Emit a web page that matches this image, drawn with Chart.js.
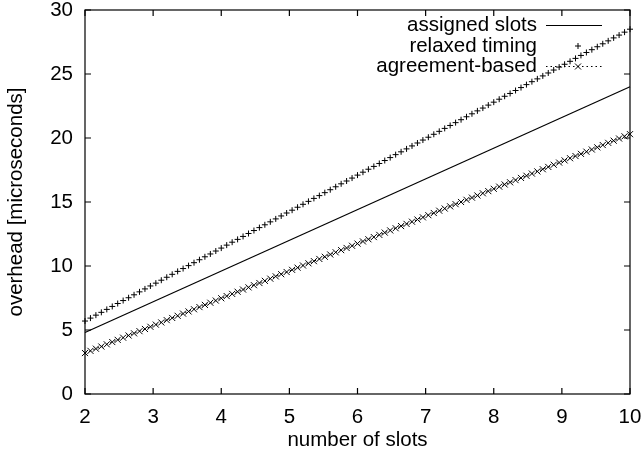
<!DOCTYPE html>
<html>
<head>
<meta charset="utf-8">
<script src="https://cdn.jsdelivr.net/npm/chart.js@4.4.1/dist/chart.umd.min.js"></script>
<style>
  html, body { margin: 0; padding: 0; background: #fff; }
  canvas { display: block; }
</style>
</head>
<body>
<canvas id="overheadChart" width="644" height="461"></canvas>
<script>
// --- DATA ---
const seriesNames = ['assigned slots', 'relaxed timing', 'agreement-based'];

// assigned slots is a plain straight line
const assignedX = [2, 10];
const assignedY = [4.8, 24.0];

// sample positions (number of slots) for the two point series
const slotX = [
  2.00, 2.08, 2.16, 2.24, 2.32, 2.40, 2.48, 2.56, 2.64, 2.72,
  2.80, 2.88, 2.96, 3.04, 3.12, 3.20, 3.28, 3.36, 3.44, 3.52,
  3.60, 3.68, 3.76, 3.84, 3.92, 4.00, 4.08, 4.16, 4.24, 4.32,
  4.40, 4.48, 4.56, 4.64, 4.72, 4.80, 4.88, 4.96, 5.04, 5.12,
  5.20, 5.28, 5.36, 5.44, 5.52, 5.60, 5.68, 5.76, 5.84, 5.92,
  6.00, 6.08, 6.16, 6.24, 6.32, 6.40, 6.48, 6.56, 6.64, 6.72,
  6.80, 6.88, 6.96, 7.04, 7.12, 7.20, 7.28, 7.36, 7.44, 7.52,
  7.60, 7.68, 7.76, 7.84, 7.92, 8.00, 8.08, 8.16, 8.24, 8.32,
  8.40, 8.48, 8.56, 8.64, 8.72, 8.80, 8.88, 8.96, 9.04, 9.12,
  9.20, 9.28, 9.36, 9.44, 9.52, 9.60, 9.68, 9.76, 9.84, 9.92,
  10.00
];

const relaxedY = [
  5.70, 5.93, 6.16, 6.38, 6.61, 6.84, 7.07, 7.30, 7.52, 7.75,
  7.98, 8.21, 8.44, 8.66, 8.89, 9.12, 9.35, 9.58, 9.80, 10.03,
  10.26, 10.49, 10.72, 10.94, 11.17, 11.40, 11.63, 11.86, 12.08, 12.31,
  12.54, 12.77, 13.00, 13.22, 13.45, 13.68, 13.91, 14.14, 14.36, 14.59,
  14.82, 15.05, 15.28, 15.50, 15.73, 15.96, 16.19, 16.42, 16.64, 16.87,
  17.10, 17.33, 17.56, 17.78, 18.01, 18.24, 18.47, 18.70, 18.92, 19.15,
  19.38, 19.61, 19.84, 20.06, 20.29, 20.52, 20.75, 20.98, 21.20, 21.43,
  21.66, 21.89, 22.12, 22.34, 22.57, 22.80, 23.03, 23.26, 23.48, 23.71,
  23.94, 24.17, 24.40, 24.62, 24.85, 25.08, 25.31, 25.54, 25.76, 25.99,
  26.22, 26.45, 26.68, 26.90, 27.13, 27.36, 27.59, 27.82, 28.04, 28.27,
  28.50
];

const agreementY = [
  3.20, 3.37, 3.54, 3.71, 3.88, 4.06, 4.23, 4.40, 4.57, 4.74,
  4.91, 5.08, 5.25, 5.42, 5.59, 5.77, 5.94, 6.11, 6.28, 6.45,
  6.62, 6.79, 6.96, 7.13, 7.30, 7.48, 7.65, 7.82, 7.99, 8.16,
  8.33, 8.50, 8.67, 8.84, 9.01, 9.19, 9.36, 9.53, 9.70, 9.87,
  10.04, 10.21, 10.38, 10.55, 10.72, 10.90, 11.07, 11.24, 11.41, 11.58,
  11.75, 11.92, 12.09, 12.26, 12.43, 12.61, 12.78, 12.95, 13.12, 13.29,
  13.46, 13.63, 13.80, 13.97, 14.14, 14.32, 14.49, 14.66, 14.83, 15.00,
  15.17, 15.34, 15.51, 15.68, 15.85, 16.03, 16.20, 16.37, 16.54, 16.71,
  16.88, 17.05, 17.22, 17.39, 17.56, 17.74, 17.91, 18.08, 18.25, 18.42,
  18.59, 18.76, 18.93, 19.10, 19.27, 19.45, 19.62, 19.79, 19.96, 20.13,
  20.30
];

const xTicks = [2, 3, 4, 5, 6, 7, 8, 9, 10];
const yTicks = [0, 5, 10, 15, 20, 25, 30];

// --- STYLE ---
const FONT = '"Liberation Sans", Arial, Helvetica, sans-serif';
const FONT_SIZE = 20.5;
const INK = '#000';
const TICK_LEN = 6;

const toPoints = (xs, ys) => xs.map((x, i) => ({ x: x, y: ys[i] }));

// gnuplot style frame: box + inward ticks on all four sides
const framePlugin = {
  id: 'frame',
  afterDatasetsDraw(chart) {
    const ctx = chart.ctx;
    const a = chart.chartArea;
    const xs = chart.scales.x, ys = chart.scales.y;
    ctx.save();
    ctx.strokeStyle = INK;
    ctx.lineWidth = 1.2;
    ctx.strokeRect(a.left, a.top, a.right - a.left, a.bottom - a.top);
    ctx.beginPath();
    xTicks.forEach(v => {
      const px = xs.getPixelForValue(v);
      ctx.moveTo(px, a.bottom); ctx.lineTo(px, a.bottom - TICK_LEN);
      ctx.moveTo(px, a.top); ctx.lineTo(px, a.top + TICK_LEN);
    });
    yTicks.forEach(v => {
      const py = ys.getPixelForValue(v);
      ctx.moveTo(a.left, py); ctx.lineTo(a.left + TICK_LEN, py);
      ctx.moveTo(a.right, py); ctx.lineTo(a.right - TICK_LEN, py);
    });
    ctx.stroke();
    ctx.restore();
  }
};

// key in the top right corner: text right aligned, sample to its right
const keyPlugin = {
  id: 'gnuKey',
  afterDraw(chart) {
    const ctx = chart.ctx;
    const textRight = 537;
    const sampleL = 546, sampleR = 602;
    const rows = [25.5, 46, 66.5];
    ctx.save();
    ctx.font = FONT_SIZE + 'px ' + FONT;
    ctx.fillStyle = INK;
    ctx.textAlign = 'right';
    ctx.textBaseline = 'middle';
    seriesNames.forEach((name, i) => ctx.fillText(name, textRight, rows[i]));

    ctx.strokeStyle = INK;
    ctx.lineWidth = 1.2;
    // solid line
    ctx.beginPath();
    ctx.moveTo(sampleL, rows[0]); ctx.lineTo(sampleR, rows[0]);
    ctx.stroke();
    const mid = 578;
    // plus marker
    ctx.lineWidth = 1;
    ctx.beginPath();
    ctx.moveTo(mid - 3, rows[1]); ctx.lineTo(mid + 3, rows[1]);
    ctx.moveTo(mid, rows[1] - 3); ctx.lineTo(mid, rows[1] + 3);
    ctx.stroke();
    // dotted line + cross
    ctx.setLineDash([1.5, 3]);
    ctx.beginPath();
    ctx.moveTo(sampleL, rows[2]); ctx.lineTo(sampleR, rows[2]);
    ctx.stroke();
    ctx.setLineDash([]);
    ctx.beginPath();
    ctx.moveTo(mid - 3, rows[2] - 3); ctx.lineTo(mid + 3, rows[2] + 3);
    ctx.moveTo(mid - 3, rows[2] + 3); ctx.lineTo(mid + 3, rows[2] - 3);
    ctx.stroke();
    ctx.restore();
  }
};

const chart = new Chart(document.getElementById('overheadChart').getContext('2d'), {
  type: 'scatter',
  data: {
    datasets: [
      {
        label: seriesNames[0],
        data: toPoints(assignedX, assignedY),
        showLine: true,
        borderColor: INK,
        borderWidth: 1.2,
        pointRadius: 0,
        clip: false
      },
      {
        label: seriesNames[1],
        data: toPoints(slotX, relaxedY),
        showLine: false,
        pointStyle: 'cross',
        pointRadius: 3,
        pointBorderColor: INK,
        pointBorderWidth: 1,
        borderColor: INK,
        clip: false
      },
      {
        label: seriesNames[2],
        data: toPoints(slotX, agreementY),
        showLine: true,
        borderColor: INK,
        borderWidth: 1,
        borderDash: [1.5, 3],
        pointStyle: 'crossRot',
        pointRadius: 4.3,
        pointBorderColor: INK,
        pointBorderWidth: 1,
        clip: false
      }
    ]
  },
  options: {
    responsive: false,
    animation: false,
    devicePixelRatio: 1,
    layout: { padding: { top: 10, right: 14, left: 0, bottom: 0 } },
    plugins: {
      legend: { display: false },
      tooltip: { enabled: false }
    },
    scales: {
      x: {
        type: 'linear',
        min: 2,
        max: 10,
        afterFit: (s) => { s.height = 67; s.paddingLeft = 0; s.paddingRight = 0; },
        afterBuildTicks: (s) => { s.ticks = xTicks.map(v => ({ value: v })); },
        grid: { display: false, drawTicks: false },
        border: { display: false },
        ticks: { color: INK, font: { family: FONT, size: FONT_SIZE }, padding: 11, maxRotation: 0 },
        title: {
          display: true,
          text: 'number of slots',
          color: INK,
          font: { family: FONT, size: FONT_SIZE },
          padding: { top: 0, bottom: 8 }
        }
      },
      y: {
        type: 'linear',
        min: 0,
        max: 30,
        afterFit: (s) => { s.width = 85; s.paddingTop = 0; s.paddingBottom = 0; },
        afterBuildTicks: (s) => { s.ticks = yTicks.map(v => ({ value: v })); },
        grid: { display: false, drawTicks: false },
        border: { display: false },
        ticks: { color: INK, font: { family: FONT, size: FONT_SIZE }, padding: 12 },
        title: {
          display: true,
          text: 'overhead [microseconds]',
          color: INK,
          font: { family: FONT, size: FONT_SIZE },
          padding: { top: 4, bottom: 0 }
        }
      }
    }
  },
  plugins: [framePlugin, keyPlugin]
});
</script>
</body>
</html>
